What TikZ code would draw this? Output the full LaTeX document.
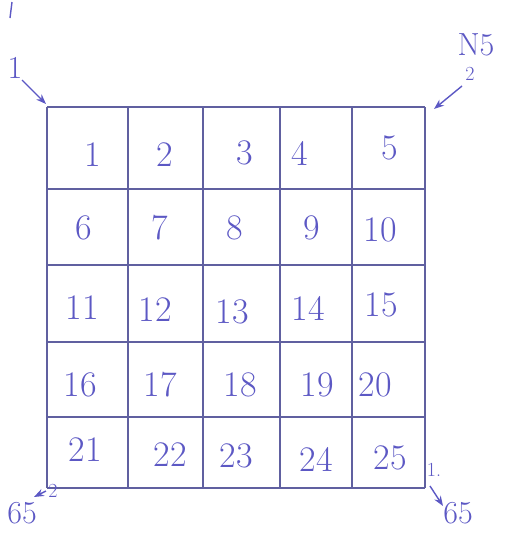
\documentclass[tikz,border=0pt]{standalone}
\usepackage{amsmath}
\usepackage{xcolor}
\usepackage{tikz}
\usetikzlibrary{arrows.meta, positioning}

\definecolor{ink}{RGB}{92,88,196}
\definecolor{gridink}{RGB}{96,96,160}

\tikzset{
  num/.style={text=ink, font=\fontsize{36}{40}\selectfont},
  note/.style={text=ink, font=\fontsize{32}{36}\selectfont},
  tiny/.style={text=ink, font=\fontsize{20}{22}\selectfont},
  pen/.style={->, ink, line width=1.4pt, >={Stealth[length=10pt]}}
}

\begin{document}
\begin{tikzpicture}[x=1pt, y=-1pt]
\useasboundingbox (0,0) rectangle (512,533);
% grid
\foreach \x in {47,128,203,280,352,425}
  \draw[gridink, line width=1.3pt] (\x,107) -- (\x,488);
\foreach \y in {107,189,265,342,417,488}
  \draw[gridink, line width=1.3pt] (47,\y) -- (425,\y);
% cell numbers
\node[num] (c1) at (93,155) {1};
\node[num] (c2) at (165,155) {2};
\node[num] (c3) at (245,153) {3};
\node[num] (c4) at (300,153) {4};
\node[num] (c5) at (390,148) {5};
\node[num] (c6) at (84,228) {6};
\node[num] (c7) at (160,228) {7};
\node[num] (c8) at (235,228) {8};
\node[num] (c9) at (312,228) {9};
\node[num] (c10) at (380,230) {10};
\node[num] (c11) at (82,308) {11};
\node[num] (c12) at (155,310) {12};
\node[num] (c13) at (232,312) {13};
\node[num] (c14) at (308,308) {14};
\node[num] (c15) at (381,305) {15};
\node[num] (c16) at (80,385) {16};
\node[num] (c17) at (160,385) {17};
\node[num] (c18) at (240,385) {18};
\node[num] (c19) at (317,385) {19};
\node[num] (c20) at (375,385) {20};
\node[num] (c21) at (85,450) {21};
\node[num] (c22) at (170,455) {22};
\node[num] (c23) at (236,456) {23};
\node[num] (c24) at (316,459) {24};
\node[num] (c25) at (390,458) {25};
% corner notes
\draw[ink, line width=1.4pt] (12,2) -- (10,18);
\node[note] (tl) at (15,68) {1};
\coordinate (tlc) at (46,104);
\draw[pen] (22,80) -- (tlc);
\node[note] (tr) at (476,45) {N5};
\node[tiny] (trs) at (470,74) {2};
\coordinate (trc) at (434,109);
\draw[pen] (462,86) -- (trc);
\node[note] (bl) at (22,513) {65};
\node[tiny] (bls) at (53,491) {2};
\coordinate (blc) at (34,497);
\draw[pen] (46,491) -- (blc);
\node[note] (br) at (458,513) {65};
\node[tiny] (brs) at (434,470) {1.};
\coordinate (brc) at (443,506);
\draw[pen] (430,486) -- (brc);
\end{tikzpicture}
\end{document}
